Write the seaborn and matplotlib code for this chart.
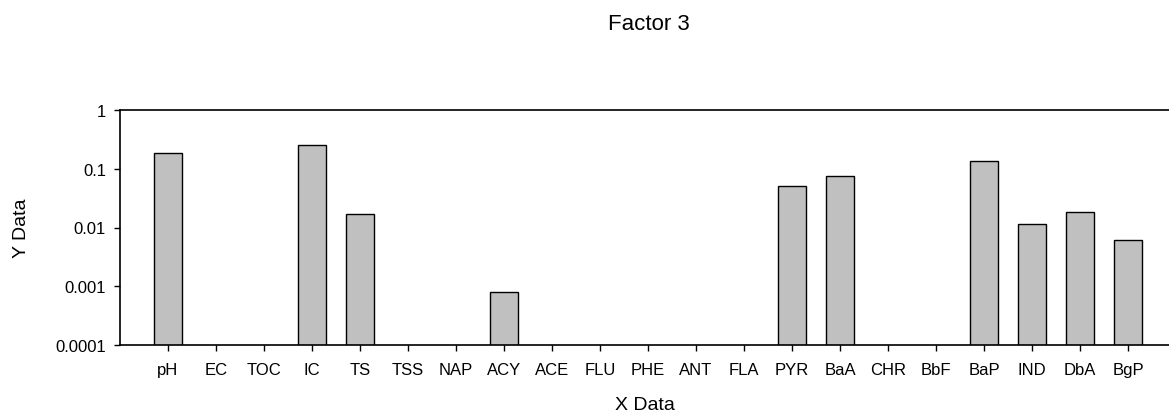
import numpy as np
import pandas as pd
import matplotlib
matplotlib.use("Agg")
import matplotlib.pyplot as plt
import seaborn as sns

species = ["pH", "EC", "TOC", "IC", "TS", "TSS", "NAP", "ACY", "ACE", "FLU",
           "PHE", "ANT", "FLA", "PYR", "BaA", "CHR", "BbF", "BaP", "IND", "DbA", "BgP"]
loadings = [0.187, 0, 0, 0.257, 0.0172, 0, 0, 0.0008, 0, 0,
            0, 0, 0, 0.0508, 0.0743, 0, 0, 0.1355, 0.0116, 0.0184, 0.0062]
y_ticks = [0.0001, 0.001, 0.01, 0.1, 1]
y_tick_labels = ["0.0001", "0.001", "0.01", "0.1", "1"]

sns.set_theme(style="white")
plt.rcParams["font.family"] = ["Liberation Sans", "DejaVu Sans"]

df = pd.DataFrame({"species": species, "value": loadings})

W, H = 1169, 414
fig = plt.figure(figsize=(W / 100, H / 100), dpi=100)
ax = fig.add_axes([120 / W, 1 - 346 / H, (W - 120) / W, (346 - 111) / H])

sns.barplot(data=df, x="species", y="value", order=species, color="#C0C0C0",
            edgecolor="black", linewidth=1.0, width=0.6, saturation=1, ax=ax)

ax.set_yscale("log")
ax.set_ylim(1e-4, 1)
ax.set_xlim(-1, (W - 120) / 48 - 1)
ax.set_yticks(y_ticks)
ax.set_yticklabels(y_tick_labels)
ax.minorticks_off()

for side in ["left", "bottom", "top"]:
    ax.spines[side].set_visible(True)
    ax.spines[side].set_color("black")
    ax.spines[side].set_linewidth(1.2)
ax.spines["right"].set_visible(False)

ax.tick_params(axis="both", which="major", direction="out", length=4, width=1,
               color="black", labelsize=12, labelcolor="black",
               bottom=True, left=True)
ax.tick_params(axis="x", pad=8)
ax.tick_params(axis="y", pad=6)

ax.set_xlabel("X Data", fontsize=14, color="black")
ax.set_ylabel("Y Data", fontsize=14, color="black")
ax.xaxis.label.set_va("center")
ax.yaxis.label.set_va("center")
ax.xaxis.set_label_coords(0.5, (346 - 406) / 235)
ax.yaxis.set_label_coords((21 - 120) / (W - 120), 0.5)

fig.text(649 / W, 1 - 24 / H, "Factor 3", ha="center", va="center",
         fontsize=16, color="black")

fig.savefig("out.png", dpi=100)
